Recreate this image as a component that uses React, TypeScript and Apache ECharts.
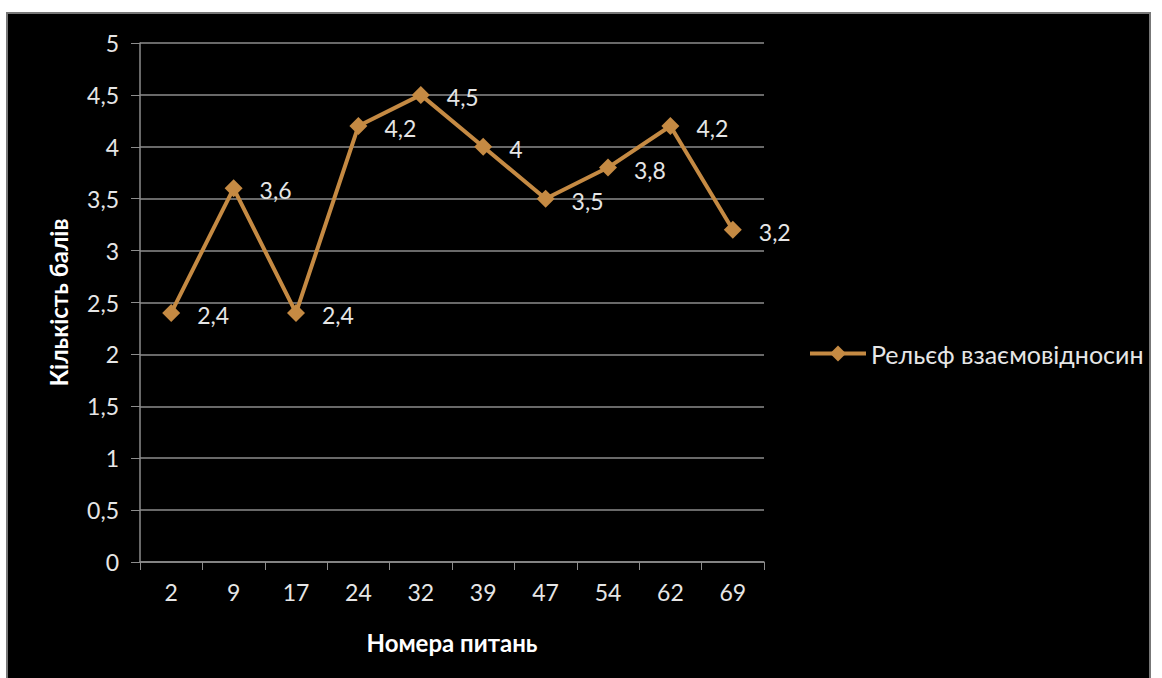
import React, { useEffect, useRef } from "react";
import * as echarts from "echarts";

const categories = ["2", "9", "17", "24", "32", "39", "47", "54", "62", "69"];
const values = [2.4, 3.6, 2.4, 4.2, 4.5, 4.0, 3.5, 3.8, 4.2, 3.2];
const seriesName = "Рельєф взаємовідносин";
const xName = "Номера питань";
const yName = "Кількість балів";

const comma = (v: number) => String(v).replace(".", ",");

export default function App() {
  const ref = useRef<HTMLDivElement>(null);
  useEffect(() => {
    document.body.style.margin = "0";
    const chart = echarts.init(ref.current!, undefined, { renderer: "svg" });
    const font = "Lato";
    const fs = 23;
    chart.setOption({
      animation: false,
      backgroundColor: "#ffffff",
      textStyle: { fontFamily: font },
      graphic: [
        {
          type: "rect",
          shape: { x: 7, y: 13, width: 1143, height: 675 },
          style: { fill: "#000000", stroke: "#777777", lineWidth: 2 },
          z: -10,
        },
      ],
      grid: { left: 140, right: 398, top: 43, bottom: 116 },
      legend: {
        data: [seriesName],
        left: 803,
        top: 336,
        orient: "vertical",
        itemWidth: 56,
        itemHeight: 20,
        itemGap: 8,
        lineStyle: { width: 4 },
        textStyle: { color: "#e6e6e6", fontSize: 25, fontFamily: font },
      },
      xAxis: {
        type: "category",
        data: categories,
        boundaryGap: true,
        name: xName,
        nameLocation: "middle",
        nameGap: 68,
        nameTextStyle: { color: "#ffffff", fontSize: 24, fontWeight: "bold", fontFamily: font },
        axisLine: { lineStyle: { color: "#8c8c8c", width: 1.5 } },
        axisTick: { show: true, length: 8, lineStyle: { color: "#8c8c8c" } },
        axisLabel: { color: "#e6e6e6", fontSize: fs, margin: 18, fontFamily: font },
        splitLine: { show: false },
      },
      yAxis: {
        type: "value",
        min: 0,
        max: 5,
        interval: 0.5,
        name: yName,
        nameLocation: "middle",
        nameGap: 70,
        nameRotate: 90,
        nameTextStyle: { color: "#ffffff", fontSize: 24, fontWeight: "bold", fontFamily: font },
        axisLine: { show: true, lineStyle: { color: "#8c8c8c", width: 1.5 } },
        axisTick: { show: true, length: 9, lineStyle: { color: "#8c8c8c" } },
        axisLabel: {
          color: "#e6e6e6",
          fontSize: fs,
          margin: 21,
          fontFamily: font,
          formatter: (v: number) => comma(v),
        },
        splitLine: { show: true, lineStyle: { color: "#8c8c8c", width: 1.5 } },
      },
      series: [
        {
          name: seriesName,
          type: "line",
          data: values,
          symbol: "diamond",
          symbolSize: 18,
          itemStyle: { color: "#c58a43" },
          lineStyle: { color: "#c58a43", width: 4 },
          label: {
            show: true,
            position: "right",
            distance: 17,
            color: "#e6e6e6",
            fontSize: fs,
            fontFamily: font,
            offset: [0, 2],
            formatter: (p: any) => comma(p.value),
          },
        },
      ],
    });
    return () => chart.dispose();
  }, []);
  return <div ref={ref} style={{ width: 1162, height: 678 }} />;
}
